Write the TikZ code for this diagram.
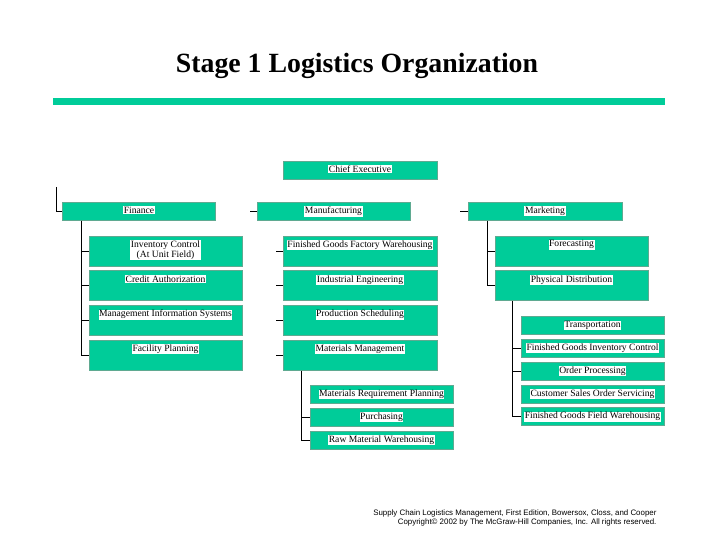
\documentclass[tikz,border=0pt]{standalone}
\usepackage{fontspec}
\setmainfont{Liberation Serif}
\newfontfamily\footfont{Liberation Sans}
\usetikzlibrary{positioning}
\definecolor{boxgreen}{RGB}{0,204,153}
\definecolor{boxedge}{RGB}{95,170,145}
\tikzset{
    orgbox/.style={
        rectangle,
        fill=boxgreen,
        draw=boxedge,
        line width=0.8pt,
        inner sep=0pt
    },
    headbox/.style={orgbox, minimum width=153pt, minimum height=18pt},
    tallbox/.style={orgbox, minimum width=153pt, minimum height=30pt},
    flatbox/.style={orgbox, minimum width=143pt, minimum height=18pt},
    boxtext/.style={
        fill=white,
        inner sep=0.6pt,
        font=\fontsize{9.6}{10}\selectfont,
        align=center,
        anchor=north,
        yshift=-4.2pt
    },
    tie/.style={draw=black, line width=0.9pt}
}

\begin{document}
\begin{tikzpicture}[x=1pt, y=-1pt]
\useasboundingbox (0,0) rectangle (720,540);

% Title and rule
\node[font=\fontsize{27.8}{32}\selectfont\bfseries] (title) at (357,66) {Stage 1 Logistics Organization};
\fill[boxgreen] (53,98) rectangle (665,105);

% Top level
\node[headbox, minimum width=154pt, label={[boxtext]north:Chief Executive}] (chief) at (360,170) {};
\node[headbox, label={[boxtext]north:Finance}] (finance) at (139,211.5) {};
\node[headbox, label={[boxtext]north:Manufacturing}] (manufacturing) at (333.5,211.5) {};
\node[headbox, minimum width=154pt, label={[boxtext]north:Marketing}] (marketing) at (545,211.5) {};

% Finance
\node[tallbox, label={[boxtext]north:Inventory Control\\(At Unit Field)}] (invcontrol) at (165.5,251) {};
\node[tallbox, below=4pt of invcontrol, label={[boxtext]north:Credit Authorization}] (creditauth) {};
\node[tallbox, below=4pt of creditauth, label={[boxtext]north:Management Information Systems}] (mis) {};
\node[tallbox, below=4pt of mis, label={[boxtext]north:Facility Planning}] (facility) {};

% Manufacturing
\node[tallbox, minimum width=154pt, label={[boxtext]north:Finished Goods Factory Warehousing}] (fgfactory) at (360,251) {};
\node[tallbox, minimum width=154pt, below=4pt of fgfactory, label={[boxtext]north:Industrial Engineering}] (indeng) {};
\node[tallbox, minimum width=154pt, below=4pt of indeng, label={[boxtext]north:Production Scheduling}] (prodsched) {};
\node[tallbox, minimum width=154pt, below=4pt of prodsched, label={[boxtext]north:Materials Management}] (matmgmt) {};

% Materials Management
\node[flatbox, label={[boxtext]north:Materials Requirement Planning}] (mrp) at (381.5,394.5) {};
\node[flatbox, below=4pt of mrp, label={[boxtext]north:Purchasing}] (purchasing) {};
\node[flatbox, below=4pt of purchasing, label={[boxtext]north:Raw Material Warehousing}] (rawmat) {};

% Marketing
\node[tallbox, label={[boxtext]north:Forecasting}] (forecasting) at (571.5,251) {};
\node[tallbox, below=4pt of forecasting, label={[boxtext]north:Physical Distribution}] (physdist) {};

% Physical Distribution
\node[flatbox, label={[boxtext]north:Transportation}] (transport) at (592.5,325.5) {};
\node[flatbox, below=4pt of transport, label={[boxtext]north:Finished Goods Inventory Control}] (fgic) {};
\node[flatbox, below=4pt of fgic, label={[boxtext]north:Order Processing}] (orderproc) {};
\node[flatbox, below=4pt of orderproc, label={[boxtext]north:Customer Sales Order Servicing}] (custsales) {};
\node[flatbox, below=4pt of custsales, label={[boxtext]north:Finished Goods Field Warehousing}] (fgfield) {};

% Connectors
\coordinate (fin-top) at (56,187);
\coordinate (mfg-tick) at (250,211.5);
\coordinate (mkt-tick) at (460,211.5);
\draw[tie] (fin-top) |- (finance.west);
\draw[tie] (mfg-tick) -- (manufacturing.west);
\draw[tie] (mkt-tick) -- (marketing.west);
\foreach \n in {invcontrol,creditauth,mis,facility}
    \draw[tie] ([xshift=19pt]finance.south west) |- (\n.west);
\foreach \n in {fgfactory,indeng,prodsched,matmgmt}
    \draw[tie] (\n.west) -- ++(-7,0);
\foreach \n in {purchasing,rawmat}
    \draw[tie] ([xshift=19pt]matmgmt.south west) |- (\n.west);
\foreach \n in {forecasting,physdist}
    \draw[tie] ([xshift=20pt]marketing.south west) |- (\n.west);
\foreach \n in {fgic,orderproc,fgfield}
    \draw[tie] ([xshift=18pt]physdist.south west) |- (\n.west);

% Source line
\node[font=\footfont\fontsize{7.9}{8.2}\selectfont, align=right, anchor=east] (source) at (660,518) {Supply Chain Logistics Management, First Edition, Bowersox, Closs, and Cooper\\Copyright\textcopyright{} 2002 by The McGraw-Hill Companies, Inc. All rights reserved.};
\end{tikzpicture}
\end{document}
